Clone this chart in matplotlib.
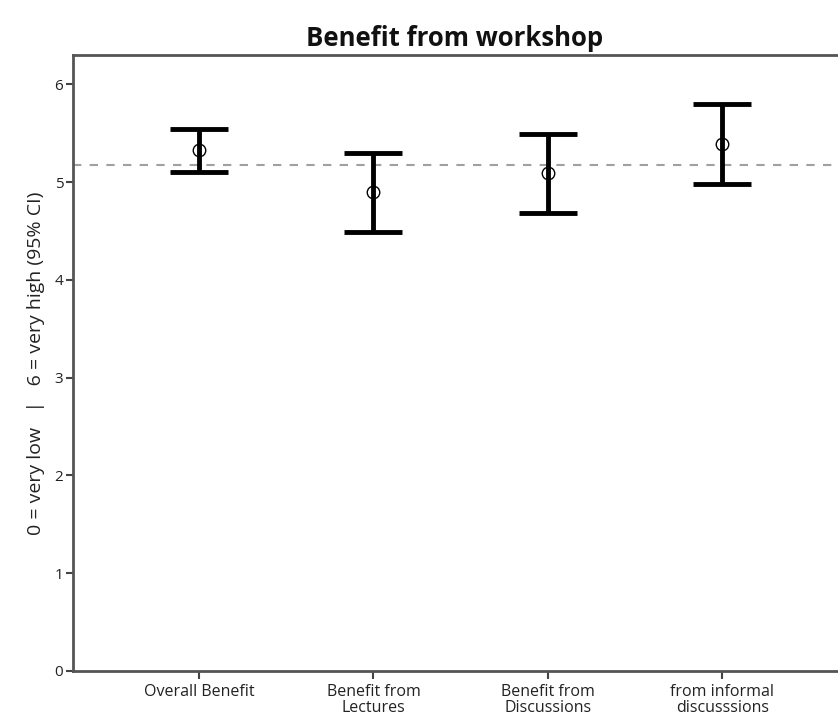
import numpy as np
import matplotlib.pyplot as plt

# Mean ratings with 95% confidence limits
categories = ["Overall Benefit", "Benefit from\nLectures", "Benefit from\nDiscussions", "from informal\ndiscusssions"]
means = [5.33, 4.90, 5.09, 5.39]
ci_low = [5.10, 4.49, 4.68, 4.98]
ci_high = [5.54, 5.30, 5.49, 5.80]
reference_mean = 5.17

plt.rcParams['font.family'] = ['Open Sans', 'DejaVu Sans']

fig = plt.figure(figsize=(8.38, 7.18), dpi=100)
ax = fig.add_axes([73 / 838, 47 / 718, 765 / 838, 616 / 718])

x = np.arange(len(categories))
means = np.array(means)
yerr = [means - np.array(ci_low), np.array(ci_high) - means]

ax.axhline(reference_mean, color='#a0a0a0', linestyle=(0, (4, 4)), linewidth=1.5, zorder=1)
ax.errorbar(x, means, yerr=yerr, fmt='none', ecolor='black', elinewidth=3.5,
            capsize=21, capthick=3.5, zorder=2)
ax.plot(x, means, 'o', markersize=9, markerfacecolor='none', markeredgecolor='black',
        markeredgewidth=1.0, zorder=3)

ax.set_xlim(-0.722, 3.662)
ax.set_ylim(0, 6.30)
ax.set_yticks(range(0, 7))
ax.set_xticks(x)
ax.set_xticklabels(categories, fontsize=11.5, color='#222222', linespacing=1.0)
ax.tick_params(axis='y', labelsize=11, labelcolor='#222222', length=5, width=1.5,
               color='#444444', pad=2)
ax.tick_params(axis='x', length=6, width=1.5, color='#444444', pad=3)

for side in ['left', 'bottom', 'top']:
    ax.spines[side].set_color('#555555')
    ax.spines[side].set_linewidth(2)
ax.spines['right'].set_visible(False)

ax.set_ylabel("0 = very low   |   6 = very high (95% CI)", fontsize=14,
              color='#222222', labelpad=7)
fig.text(0.543, 0.947, "Benefit from workshop", ha='center', va='center',
         fontsize=18.5, fontweight='bold', color='#111111')

fig.savefig("out.png", dpi=100)
